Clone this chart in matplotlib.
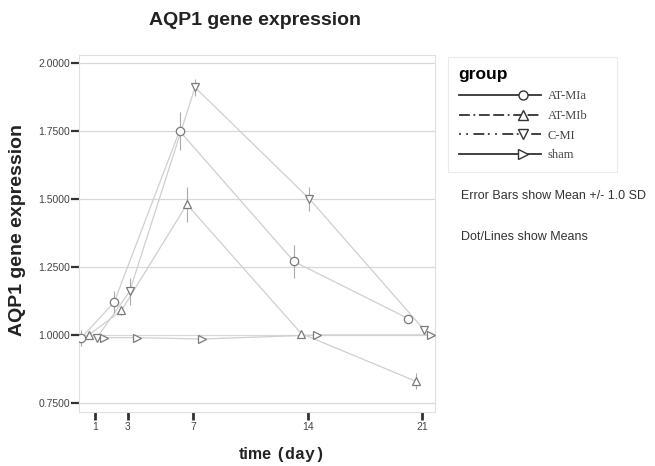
import numpy as np
import matplotlib.pyplot as plt
from matplotlib.lines import Line2D
from matplotlib.legend_handler import HandlerLine2D

# data (means and SD)
days = [1, 3, 7, 14, 21]
groups = ['AT-MIa', 'AT-MIb', 'C-MI', 'sham']
mia = [0.99, 1.12, 1.75, 1.27, 1.06]
mia_sd = [0.03, 0.04, 0.07, 0.06, 0.015]
mib = [1.00, 1.09, 1.48, 1.005, 0.83]
mib_sd = [0.01, 0.015, 0.065, 0.01, 0.03]
cmi = [0.99, 1.16, 1.91, 1.50, 1.02]
cmi_sd = [0.01, 0.05, 0.03, 0.045, 0.01]
sham = [0.99, 0.99, 0.985, 1.00, 1.00]
sham_sd = [0.008, 0.005, 0.005, 0.005, 0.005]
dodge = [-0.85, -0.4, 0.1, 0.55]
yticks = [0.75, 1.0, 1.25, 1.5, 1.75, 2.0]

means = [mia, mib, cmi, sham]
sds = [mia_sd, mib_sd, cmi_sd, sham_sd]
markers = ['o', '^', 'v', '>']
styles = ['-', (0, (6, 2, 1, 2, 6, 2)), (0, (1, 3, 1, 3, 6, 2)), '-']

SANS = 'Liberation Sans'


class MarkerNearEnd(HandlerLine2D):
    # line across the whole handle, marker at 3/4 of its length
    def create_artists(self, legend, orig_handle, xdescent, ydescent,
                       width, height, fontsize, trans):
        y = (height - ydescent) / 2
        line = Line2D([-xdescent, width - xdescent], [y, y])
        self.update_prop(line, orig_handle, legend)
        line.set_marker('None')
        line.set_transform(trans)
        mk = Line2D([0.78 * width - xdescent], [y])
        self.update_prop(mk, orig_handle, legend)
        mk.set_linestyle('None')
        mk.set_transform(trans)
        return [line, mk]


fig = plt.figure(figsize=(6.55, 4.66), dpi=100)
ax = fig.add_axes([0.1206, 0.116, 0.544, 0.766])

for m, s, mk, d in zip(means, sds, markers, dodge):
    x = np.array(days) + d
    ax.plot(x, m, '-', color='#cfcfcf', lw=0.9, zorder=2)
    ax.errorbar(x, m, yerr=s, fmt='none', ecolor='#aaaaaa', elinewidth=0.8,
                capsize=0, zorder=3)
    ax.plot(x, m, linestyle='none', marker=mk, ms=6, mfc='white',
            mec='#7a7a7a', mew=0.9, zorder=4)

ax.set_xlim(0, 21.8)
ax.set_ylim(0.717, 2.029)
ax.set_yticks(yticks)
ax.set_yticklabels(['%.4f' % v for v in yticks], fontsize=7.5,
                   color='#444444', family=SANS)
ax.set_xticks(days)
ax.set_xticklabels([str(d) for d in days], fontsize=7.5, color='#444444',
                   family=SANS)
ax.yaxis.grid(True, color='#d8d8d8', lw=0.9)
ax.set_axisbelow(True)
for sp in ax.spines.values():
    sp.set_color('#e0e0e0')
    sp.set_linewidth(0.8)
ax.tick_params(axis='y', length=6, width=1.6, color='#333333', pad=0.5)
ax.tick_params(axis='x', length=5.5, width=2, color='#333333', pad=1.5)

fig.text(0.39, 0.957, 'AQP1 gene expression', ha='center', va='center',
         fontsize=14, fontweight='bold', color='#222222', family=SANS)
fig.text(0.026, 0.506, 'AQP1 gene expression', ha='center', va='center',
         rotation=90, fontsize=14, fontweight='bold', color='#222222',
         family=SANS)
fig.text(0.415, 0.024, 'time', ha='right', va='center', fontsize=11.5,
         fontweight='bold', color='#222222', family=SANS)
fig.text(0.42, 0.024, '(day)', ha='left', va='center', fontsize=12,
         fontweight='bold', family='Liberation Mono', color='#222222')

handles = [Line2D([], [], color='#333333', lw=1.3, ls=st, marker=mk, ms=6.5,
                  mfc='white', mec='#333333')
           for st, mk in zip(styles, markers)]
leg = fig.legend(handles, groups, title='group', loc='upper left',
                 bbox_to_anchor=(0.684, 0.4, 0.258, 0.478), mode='expand',
                 frameon=True, handlelength=6.6, handletextpad=0.5,
                 labelspacing=0.62, borderpad=0.85, borderaxespad=0,
                 handler_map={Line2D: MarkerNearEnd()},
                 prop={'family': 'Liberation Serif', 'size': 9})
leg.get_title().set_fontweight('bold')
leg.get_title().set_fontsize(12.5)
leg.get_title().set_family(SANS)
leg._legend_box.align = 'left'
leg.get_frame().set_edgecolor('#e6e6e6')
leg.get_frame().set_linewidth(0.8)
leg.get_frame().set_boxstyle('square', pad=0)
for t in leg.get_texts():
    t.set_color('#444444')

fig.text(0.704, 0.58, 'Error Bars show Mean +/- 1.0 SD', fontsize=9,
         color='#333333', va='center', family=SANS)
fig.text(0.704, 0.491, 'Dot/Lines show Means', fontsize=9,
         color='#333333', va='center', family=SANS)

fig.savefig('out.png', dpi=100)
